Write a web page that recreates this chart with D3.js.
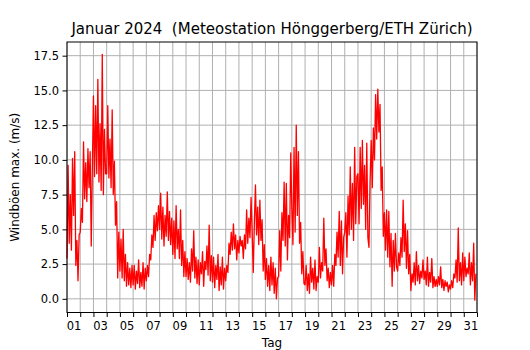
<!DOCTYPE html>
<html>
<head>
<meta charset="utf-8">
<script src="https://cdn.jsdelivr.net/npm/d3@7"></script>
<style>
  body { margin: 0; background: #fff; }
  text { font-family: "DejaVu Sans", sans-serif; fill: #000; }
</style>
</head>
<body>
<div id="chart"></div>
<script>
// labels under the x axis (odd days, at noon)
const dayLabels = ["01", "03", "05", "07", "09", "11", "13", "15", "17", "19", "21",
  "23", "25", "27", "29", "31"];
const yTicks = [0, 2.5, 5, 7.5, 10, 12.5, 15, 17.5];

// max gust (m/s), 12 readings per day (every 2 h)
const gusts = [
  [2.9, 9.6, 4.0, 7.5, 3.5, 10.1, 6.0, 10.6, 2.4, 4.2, 1.3, 4.6],   // 01
  [4.8, 6.5, 5.5, 11.3, 7.2, 9.8, 7.0, 10.8, 8.0, 10.6, 3.8, 9.4],  // 02
  [14.6, 8.8, 13.9, 9.0, 15.8, 8.4, 12.6, 7.8, 17.6, 7.5, 12.2, 9.0], // 03
  [9.0, 13.9, 8.7, 11.5, 8.0, 13.6, 7.5, 9.9, 5.3, 7.0, 1.5, 4.8],  // 04
  [2.0, 4.3, 1.5, 5.0, 1.3, 3.2, 0.9, 2.6, 1.0, 2.2, 0.8, 2.4],     // 05
  [1.0, 2.4, 0.7, 2.0, 1.1, 2.8, 0.8, 1.9, 0.9, 2.6, 0.7, 2.2],     // 06
  [1.3, 2.4, 1.6, 3.2, 2.8, 4.6, 3.7, 6.0, 4.2, 6.2, 4.9, 6.7],     // 07
  [5.0, 7.6, 4.3, 6.6, 3.8, 6.0, 4.5, 7.7, 4.2, 6.3, 3.9, 5.8],     // 08
  [3.2, 5.6, 2.9, 6.7, 3.6, 5.0, 2.9, 6.4, 2.4, 4.2, 1.6, 3.4],     // 09
  [1.6, 2.9, 1.4, 2.6, 1.2, 3.6, 2.0, 4.9, 1.5, 3.0, 1.1, 2.8],     // 10
  [1.0, 2.6, 1.8, 3.4, 0.9, 2.7, 2.1, 3.8, 1.7, 5.3, 1.3, 3.1],     // 11
  [1.2, 3.0, 0.8, 2.4, 1.4, 3.2, 0.6, 2.3, 1.0, 3.0, 0.7, 2.2],     // 12
  [1.3, 2.4, 1.9, 4.0, 3.2, 4.8, 3.5, 5.4, 3.6, 4.6, 2.8, 4.2],     // 13
  [3.3, 4.5, 3.8, 4.2, 2.9, 4.6, 3.6, 6.4, 4.0, 5.8, 4.4, 7.3],     // 14
  [4.8, 1.9, 5.5, 8.2, 4.6, 6.6, 3.9, 7.1, 4.2, 5.7, 2.0, 3.9],     // 15
  [1.4, 2.9, 0.9, 2.4, 0.6, 3.0, 1.0, 2.6, 0.4, 2.2, 0.0, 1.5],     // 16
  [1.6, 4.9, 2.0, 6.2, 4.2, 8.4, 3.8, 8.3, 2.8, 6.0, 4.4, 10.5],    // 17
  [6.5, 3.9, 10.9, 4.8, 12.5, 6.0, 10.6, 4.0, 5.5, 1.8, 3.4, 1.1],  // 18
  [1.0, 2.4, 0.6, 1.8, 0.4, 3.0, 1.2, 2.2, 0.7, 2.8, 0.6, 1.6],     // 19
  [1.2, 3.7, 1.5, 2.6, 2.0, 5.8, 2.4, 3.6, 1.3, 2.2, 0.8, 1.9],     // 20
  [1.0, 2.4, 0.9, 3.2, 2.4, 4.8, 3.0, 6.3, 2.4, 5.6, 1.8, 4.4],     // 21
  [4.8, 6.2, 3.0, 7.4, 4.6, 9.5, 5.0, 8.3, 4.2, 10.9, 5.4, 8.8],    // 22
  [9.0, 5.4, 10.9, 6.5, 11.4, 6.8, 9.6, 5.0, 11.2, 4.4, 3.7, 8.5],  // 23
  [11.4, 8.0, 12.3, 10.0, 14.7, 11.5, 15.1, 12.0, 14.0, 7.8, 9.5, 4.5], // 24
  [6.2, 3.5, 6.4, 3.0, 6.3, 2.3, 4.7, 0.9, 4.2, 2.0, 4.7, 2.3],     // 25
  [2.0, 3.3, 2.4, 4.4, 3.0, 7.1, 3.4, 5.4, 2.2, 4.9, 1.8, 3.2],     // 26
  [0.6, 1.8, 1.2, 2.6, 1.0, 3.4, 1.3, 2.4, 1.1, 2.0, 1.5, 2.8],     // 27
  [1.4, 2.0, 1.0, 3.0, 0.9, 1.9, 1.2, 2.9, 0.8, 1.6, 0.9, 1.4],     // 28
  [0.9, 1.6, 1.0, 2.3, 0.8, 1.4, 0.6, 1.3, 0.9, 1.2, 0.5, 1.0],     // 29
  [0.7, 1.3, 0.8, 1.8, 1.5, 2.8, 1.2, 5.1, 1.3, 2.6, 1.0, 3.3],     // 30
  [1.3, 3.0, 1.6, 2.2, 1.8, 3.3, 1.0, 2.6, 1.3, 4.0, -0.1, 1.8]     // 31
];

const width = 530;
const height = 350;
const margin = { top: 42, right: 53, bottom: 37.5, left: 67 };

const svg = d3
  .select("#chart")
  .append("svg")
  .attr("width", width)
  .attr("height", height);

const start = new Date(Date.UTC(2024, 0, 1));
const end = new Date(Date.UTC(2024, 1, 1));

const points = gusts.flatMap((row, d) =>
  row.map((v, i) => ({ t: new Date(Date.UTC(2024, 0, 1 + d, i * 2)), v }))
);

const x = d3
  .scaleUtc()
  .domain([start, end])
  .range([margin.left, width - margin.right]);

// matplotlib-like 5% margin on the y range
const [lo, hi] = d3.extent(points, (d) => d.v);
const pad = (hi - lo) * 0.05;
const y = d3
  .scaleLinear()
  .domain([lo - pad, hi + pad])
  .range([height - margin.bottom, margin.top]);

const days = d3.utcDay.range(start, d3.utcDay.offset(end, 1));
const noons = dayLabels.map((l) => new Date(Date.UTC(2024, 0, +l, 12)));

// grid
const grid = svg.append("g").attr("stroke", "#b0b0b0").attr("stroke-width", 1);
grid
  .selectAll(".vgrid")
  .data(days)
  .enter()
  .append("line")
  .attr("x1", (d) => x(d))
  .attr("x2", (d) => x(d))
  .attr("y1", margin.top)
  .attr("y2", height - margin.bottom);
grid
  .selectAll(".hgrid")
  .data(yTicks)
  .enter()
  .append("line")
  .attr("x1", margin.left)
  .attr("x2", width - margin.right)
  .attr("y1", (d) => y(d))
  .attr("y2", (d) => y(d));

// gust line
const line = d3
  .line()
  .x((d) => x(d.t))
  .y((d) => y(d.v));

svg
  .append("path")
  .datum(points)
  .attr("fill", "none")
  .attr("stroke", "#ff0000")
  .attr("stroke-width", 1.3)
  .attr("stroke-linejoin", "round")
  .attr("d", line);

// frame
svg
  .append("rect")
  .attr("x", margin.left)
  .attr("y", margin.top)
  .attr("width", width - margin.left - margin.right)
  .attr("height", height - margin.top - margin.bottom)
  .attr("fill", "none")
  .attr("stroke", "#000")
  .attr("stroke-width", 1);

// x axis: tick marks at midnight, labels at noon
const xTicks = svg
  .append("g")
  .attr("transform", `translate(0,${height - margin.bottom})`)
  .call(d3.axisBottom(x).tickValues(days).tickSize(4.5).tickFormat(""));
xTicks.select(".domain").remove();

const xLabels = svg
  .append("g")
  .attr("transform", `translate(0,${height - margin.bottom})`)
  .call(
    d3
      .axisBottom(x)
      .tickValues(noons)
      .tickSize(0)
      .tickPadding(9)
      .tickFormat((d, i) => dayLabels[i])
  );
xLabels.select(".domain").remove();

// y axis
const yAxis = svg
  .append("g")
  .attr("transform", `translate(${margin.left},0)`)
  .call(
    d3
      .axisLeft(y)
      .tickValues(yTicks)
      .tickSize(4.5)
      .tickPadding(3.5)
      .tickFormat(d3.format(".1f"))
  );
yAxis.select(".domain").remove();

svg.selectAll(".tick line").attr("stroke", "#000");
svg
  .selectAll(".tick text")
  .style("font-family", '"DejaVu Sans", sans-serif')
  .style("font-size", "11.5px")
  .attr("fill", "#000");

// titles
svg
  .append("text")
  .attr("x", (margin.left + width - margin.right) / 2)
  .attr("y", 34)
  .attr("text-anchor", "middle")
  .style("font-size", "15px")
  .style("white-space", "pre")
  .text("Januar 2024  (Meteostation Hönggerberg/ETH Zürich)");

svg
  .append("text")
  .attr("x", (margin.left + width - margin.right) / 2)
  .attr("y", 347)
  .attr("text-anchor", "middle")
  .style("font-size", "12px")
  .text("Tag");

svg
  .append("text")
  .attr(
    "transform",
    `translate(19,${(margin.top + height - margin.bottom) / 2}) rotate(-90)`
  )
  .attr("text-anchor", "middle")
  .style("font-size", "12px")
  .text("Windböen max. (m/s)");
</script>
</body>
</html>
